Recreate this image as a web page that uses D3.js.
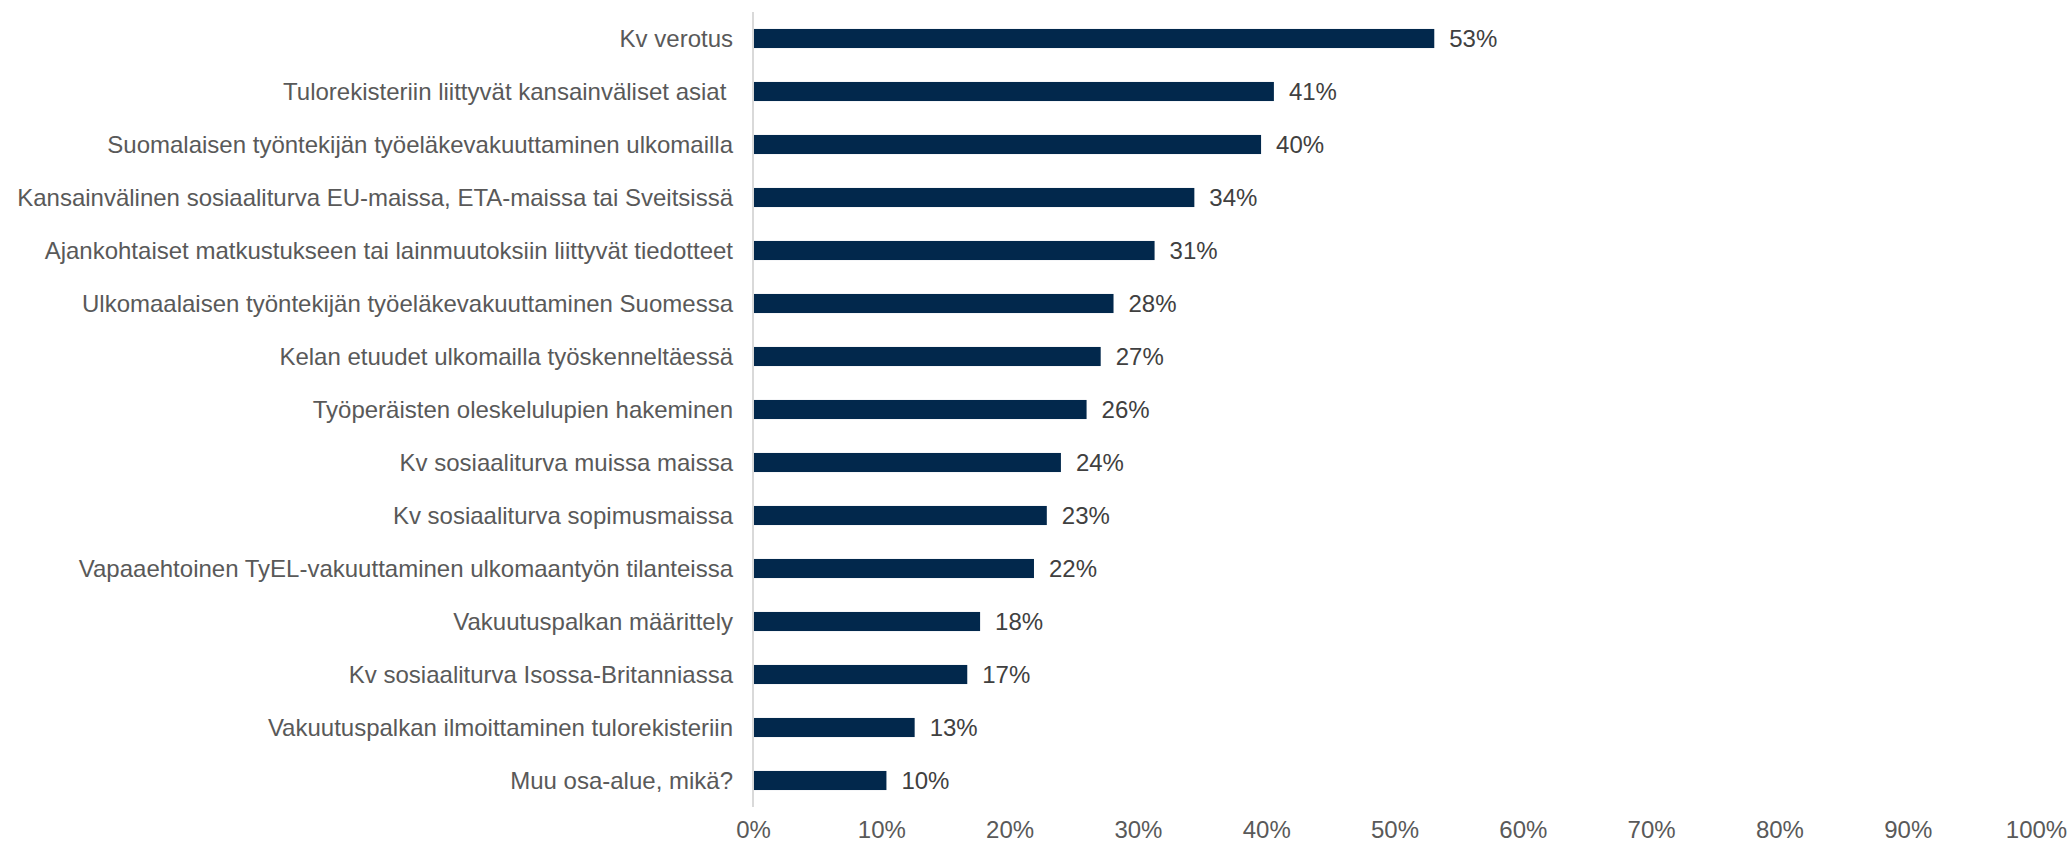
<!DOCTYPE html>
<html><head><meta charset="utf-8">
<script src="https://cdn.jsdelivr.net/npm/d3@7"></script>
<style>html,body{margin:0;padding:0;background:#fff;}svg{display:block;}</style>
</head><body>
<svg id="chart" width="2070" height="847"></svg>
<script>
const categories = [
  "Kv verotus",
  "Tulorekisteriin liittyvät kansainväliset asiat ",
  "Suomalaisen työntekijän työeläkevakuuttaminen ulkomailla",
  "Kansainvälinen sosiaaliturva EU-maissa, ETA-maissa tai Sveitsissä",
  "Ajankohtaiset matkustukseen tai lainmuutoksiin liittyvät tiedotteet",
  "Ulkomaalaisen työntekijän työeläkevakuuttaminen Suomessa",
  "Kelan etuudet ulkomailla työskenneltäessä",
  "Työperäisten oleskelulupien hakeminen",
  "Kv sosiaaliturva muissa maissa",
  "Kv sosiaaliturva sopimusmaissa",
  "Vapaaehtoinen TyEL-vakuuttaminen ulkomaantyön tilanteissa",
  "Vakuutuspalkan määrittely",
  "Kv sosiaaliturva Isossa-Britanniassa",
  "Vakuutuspalkan ilmoittaminen tulorekisteriin",
  "Muu osa-alue, mikä?"
];
const values = [53.1, 40.6, 39.6, 34.4, 31.3, 28.1, 27.1, 26.0, 24.0, 22.9, 21.9, 17.7, 16.7, 12.6, 10.4];
const valueLabels = ["53%","41%","40%","34%","31%","28%","27%","26%","24%","23%","22%","18%","17%","13%","10%"];
const tickValues = [0,10,20,30,40,50,60,70,80,90,100];
const tickLabels = ["0%","10%","20%","30%","40%","50%","60%","70%","80%","90%","100%"];

const data = categories.map((c,i)=>({cat:c, v:values[i], lab:valueLabels[i]}));
const svg = d3.select("#chart");
const font = "Liberation Sans, Arial, sans-serif";

const x = d3.scaleLinear().domain([0,100]).range([753,2036]);
const y = d3.scaleBand().domain(categories).range([12,807]).paddingInner(0.64).paddingOuter(0.32);

// bars
svg.append("g").selectAll("rect").data(data).join("rect")
  .attr("x", x(0)).attr("y", d=>y(d.cat))
  .attr("width", d=>x(d.v)-x(0)).attr("height", y.bandwidth())
  .attr("fill", "#02284c");

// vertical axis line
svg.append("line").attr("x1",x(0)).attr("x2",x(0)).attr("y1",12).attr("y2",807)
  .attr("stroke","#d9d9d9").attr("stroke-width",2);

// category labels
svg.append("g").selectAll("text").data(data).join("text")
  .attr("x", x(0)-20).attr("y", d=>y(d.cat)+y.bandwidth()/2)
  .attr("text-anchor","end").attr("dominant-baseline","central")
  .attr("font-family",font).attr("font-size",24).attr("fill","#595959")
  .style("white-space","pre")
  .text(d=>d.cat);

// value labels
svg.append("g").selectAll("text").data(data).join("text")
  .attr("x", d=>x(d.v)+15).attr("y", d=>y(d.cat)+y.bandwidth()/2)
  .attr("dominant-baseline","central")
  .attr("font-family",font).attr("font-size",24).attr("fill","#404040")
  .text(d=>d.lab);

// x axis tick labels
const xAxis = d3.axisBottom(x).tickValues(tickValues).tickFormat((d,i)=>tickLabels[i]).tickSize(0);
const gx = svg.append("g").attr("transform","translate(0,818)").call(xAxis);
gx.select(".domain").remove();
gx.selectAll("text").attr("font-family",font).attr("font-size",24).attr("fill","#595959").attr("dy","0.71em").attr("y",3);
</script>
</body></html>
